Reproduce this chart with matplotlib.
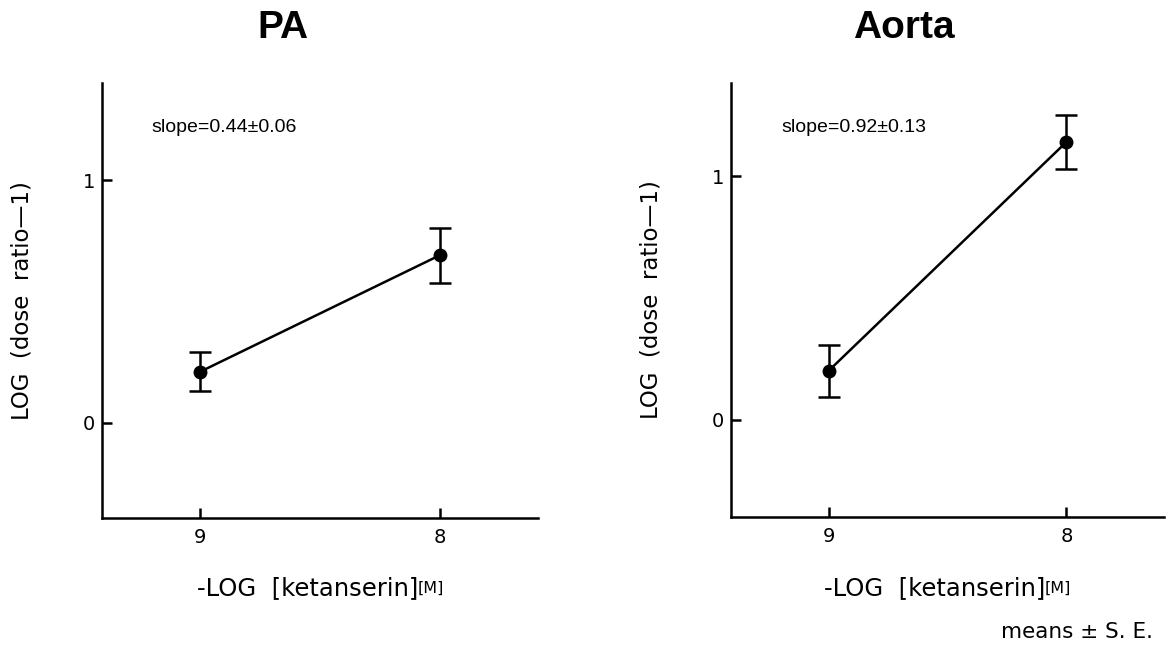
import matplotlib
matplotlib.use('Agg')
import matplotlib.pyplot as plt

###############################################################################
# data

conc = [9, 8]                       # -LOG [ketanserin] (M)

pa_mean = [0.21, 0.69]
pa_se = [0.08, 0.113]

aorta_mean = [0.20, 1.14]
aorta_se = [0.107, 0.111]

titles = ['PA', 'Aorta']
slopes = ['slope=0.44\u00b10.06', 'slope=0.92\u00b10.13']

###############################################################################
plt.rcParams['font.family'] = ['DejaVu Sans']

fig = plt.figure(figsize=(11.66, 6.5), dpi=100)

W, H = 1166.0, 650.0
# axes boxes in pixels: left, top, right, bottom
boxes = [(102, 83, 538, 518), (731, 83, 1164, 517)]
ylims = [(-0.393, 1.40), (-0.40, 1.382)]
title_x = [283, 904]
slope_x = [151, 781]

series = [(pa_mean, pa_se), (aorta_mean, aorta_se)]

for i in range(2):
     l, t, r, b = boxes[i]
     ax = fig.add_axes([l / W, 1 - b / H, (r - l) / W, (b - t) / H])
     mean, se = series[i]

     ax.errorbar(conc, mean, yerr=se, fmt='-o', color='black', lw=1.8,
                 elinewidth=1.8, capsize=8, capthick=1.8, markersize=9)

     ax.set_xlim(9.41, 7.59)
     ax.set_ylim(*ylims[i])
     ax.set_xticks([9, 8])
     ax.set_xticklabels(['9', '8'])
     ax.set_yticks([0, 1])
     ax.set_yticklabels(['0', '1'])

     for s in ['top', 'right']:
          ax.spines[s].set_visible(False)
     for s in ['left', 'bottom']:
          ax.spines[s].set_linewidth(1.8)

     ax.tick_params(direction='in', length=7, width=1.8, labelsize=14)
     ax.tick_params(axis='x', pad=7)
     ax.tick_params(axis='y', pad=5)

     ax.set_ylabel('LOG  (dose  ratio\u20141)', fontsize=16.5)
     ax.yaxis.set_label_coords(-0.158, 0.5)

     # x label with a smaller [M]
     ylab = (b - 588.0) / (b - t)
     ax.text(0.725, ylab, '-LOG  [ketanserin]', transform=ax.transAxes,
             ha='right', va='center', fontsize=17.5)
     ax.text(0.725, ylab, '[M]', transform=ax.transAxes,
             ha='left', va='center', fontsize=11.5)

     fig.text(slope_x[i] / W, 1 - 127 / H, slopes[i], ha='left', va='center',
              fontsize=14, family=['Liberation Sans', 'DejaVu Sans'])

     fig.text(title_x[i] / W, 1 - 38 / H, titles[i], ha='center',
              va='baseline', fontsize=28, fontweight='bold',
              family=['Liberation Sans', 'DejaVu Sans'])

fig.text(1153 / W, 1 - 632 / H, 'means \u00b1 S. E.', ha='right', va='center',
         fontsize=15.5)

fig.savefig('out.png', dpi=100)
